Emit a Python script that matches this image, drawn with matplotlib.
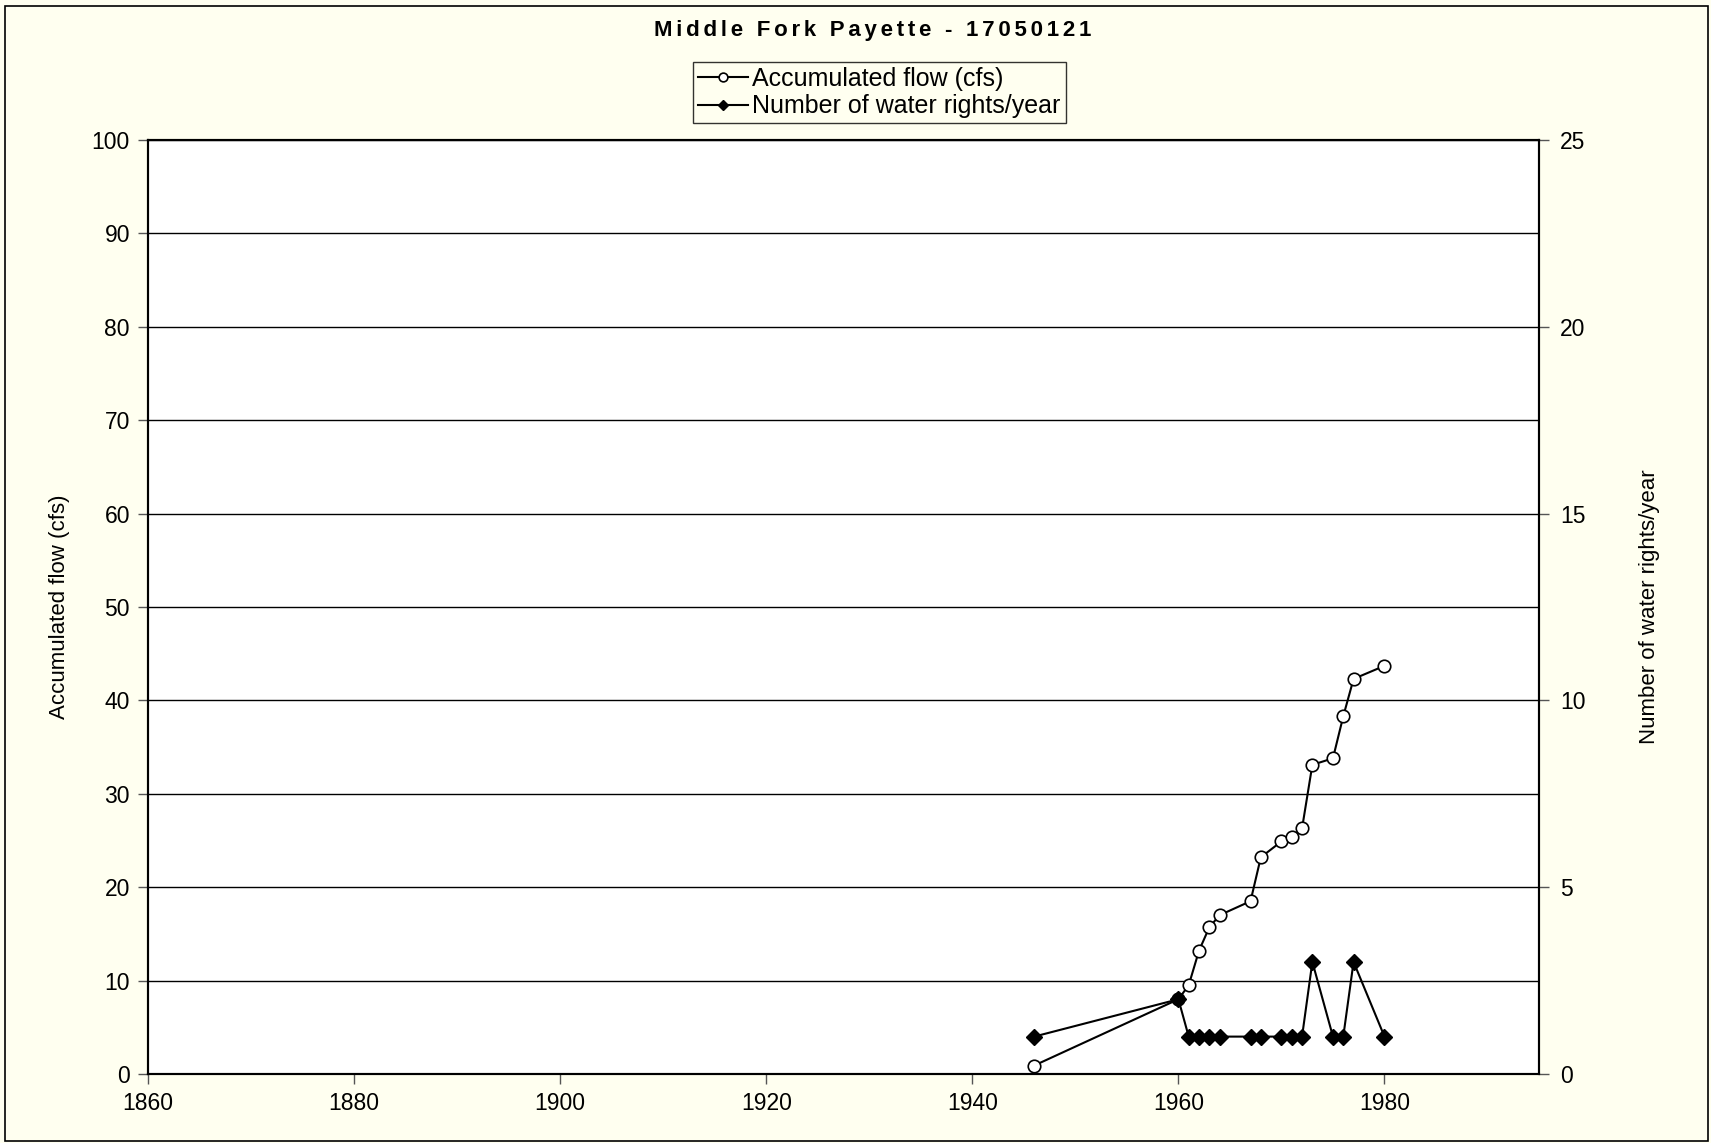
import matplotlib.pyplot as plt
from matplotlib.patches import Rectangle

plt.rcParams['font.family'] = ['Liberation Sans', 'DejaVu Sans']

# water rights by priority year
years = [1946, 1960, 1961, 1962, 1963, 1964, 1967, 1968,
         1970, 1971, 1972, 1973, 1975, 1976, 1977, 1980]
accum_flow = [0.9, 8.0, 9.5, 13.2, 15.7, 17.0, 18.5, 23.2,
              24.9, 25.4, 26.3, 33.1, 33.8, 38.3, 42.3, 43.7]
rights_per_year = [1, 2, 1, 1, 1, 1, 1, 1, 1, 1, 1, 3, 1, 1, 3, 1]

flow_ticks = list(range(0, 101, 10))
rights_ticks = list(range(0, 26, 5))
year_ticks = list(range(1860, 1981, 20))

title = 'Middle Fork Payette - 17050121'

bg = '#FFFFF0'
fig = plt.figure(figsize=(17.11, 11.43), dpi=100, facecolor=bg)
fig.patches.append(Rectangle((0.003, 0.002), 0.995, 0.993, transform=fig.transFigure,
                             fill=False, edgecolor='black', linewidth=1.2))

ax = fig.add_axes([0.0865, 0.0604, 0.813, 0.8171])
ax.set_facecolor('white')
l1, = ax.plot(years, accum_flow, color='black', linewidth=1.5, marker='o',
              markersize=9, markerfacecolor='white', markeredgecolor='black',
              markeredgewidth=1.2, label='Accumulated flow (cfs)')
ax.set_xlim(1860, 1995)
ax.set_ylim(0, 100)
ax.set_xticks(year_ticks)
ax.set_yticks(flow_ticks)
ax.grid(axis='y', color='black', linewidth=1.0)
ax.set_axisbelow(True)
ax.set_ylabel('Accumulated flow (cfs)', fontsize=16)
ax.yaxis.set_label_coords(-0.056, 0.5)
ax.tick_params(direction='out', length=7, width=1, color='#555555',
               labelsize=16.5, pad=6)

ax2 = ax.twinx()
l2, = ax2.plot(years, rights_per_year, color='black', linewidth=1.5, marker='D',
               markersize=8, markerfacecolor='black', markeredgecolor='black',
               label='Number of water rights/year')
ax2.set_ylim(0, 25)
ax2.set_yticks(rights_ticks)
ax2.set_ylabel('Number of water rights/year', fontsize=16)
ax2.yaxis.set_label_coords(1.072, 0.5)
ax2.tick_params(direction='out', length=7, width=1, color='#555555',
                labelsize=16.5, pad=8)

for a in (ax, ax2):
    for s in a.spines.values():
        s.set_color('black')
        s.set_linewidth(1.5)

# spaced-out bold title
fig.text(0.51, 0.973, '\u200a\u200a'.join(title), ha='center', va='center',
         fontsize=16, fontweight='bold')

leg = fig.legend(handles=[l1, l2], loc='center', bbox_to_anchor=(0.514, 0.919),
                 fontsize=18, frameon=True, fancybox=False, handlelength=2.0,
                 handletextpad=0.15, borderpad=0.2, borderaxespad=0,
                 labelspacing=0.15, markerscale=0.7)
leg.get_frame().set_edgecolor('black')
leg.get_frame().set_facecolor(bg)
leg.get_frame().set_linewidth(1.0)

fig.savefig('out.png', dpi=100, facecolor=bg)
